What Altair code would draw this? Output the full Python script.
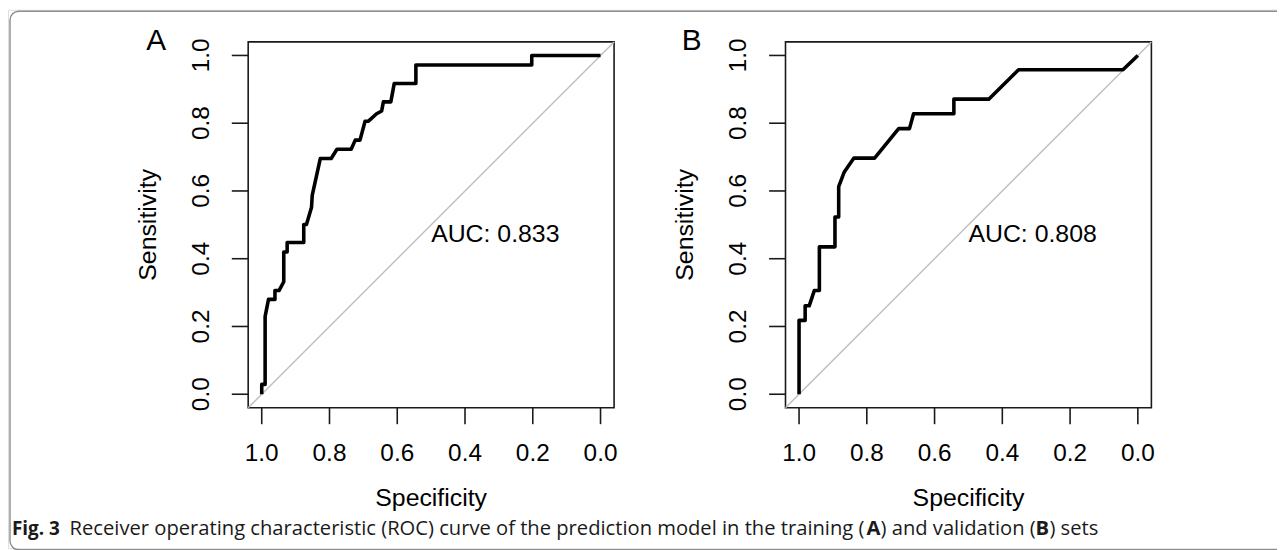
import altair as alt
import pandas as pd

# ---------------- data ----------------
# Panel A (training set) ROC curve: specificity / sensitivity
spec_a = [1.0, 1.0, 0.990, 0.990, 0.980, 0.961, 0.961, 0.949, 0.935, 0.935,
          0.925, 0.925, 0.876, 0.876, 0.868, 0.853, 0.851, 0.827, 0.795, 0.778,
          0.736, 0.724, 0.710, 0.695, 0.685, 0.661, 0.646, 0.641, 0.619, 0.609,
          0.545, 0.545, 0.203, 0.203, 0.0]
sens_a = [0.0, 0.029, 0.029, 0.230, 0.280, 0.280, 0.306, 0.306, 0.332, 0.420,
          0.420, 0.448, 0.448, 0.501, 0.501, 0.552, 0.587, 0.696, 0.696, 0.723,
          0.723, 0.750, 0.750, 0.806, 0.806, 0.828, 0.836, 0.863, 0.863, 0.917,
          0.917, 0.972, 0.972, 1.0, 1.0]
auc_a = "AUC: 0.833"

# Panel B (validation set) ROC curve
spec_b = [1.0, 1.0, 0.982, 0.982, 0.970, 0.955, 0.940, 0.940, 0.894, 0.894,
          0.883, 0.883, 0.867, 0.838, 0.777, 0.706, 0.674, 0.662, 0.543, 0.543,
          0.440, 0.352, 0.044, 0.0]
sens_b = [0.0, 0.218, 0.218, 0.261, 0.261, 0.306, 0.306, 0.435, 0.435, 0.523,
          0.523, 0.613, 0.655, 0.697, 0.697, 0.784, 0.784, 0.828, 0.828, 0.871,
          0.871, 0.958, 0.958, 1.0]
auc_b = "AUC: 0.808"

tick_values = [0.0, 0.2, 0.4, 0.6, 0.8, 1.0]
axis_domain = [-0.04, 1.04]
chance_spec = [1.04, -0.04]
chance_sens = [-0.04, 1.04]
x_title = "Specificity"
y_title = "Sensitivity"

caption_bold = "Fig. 3"
caption_pieces = [
    ("Receiver operating characteristic (ROC) curve of the prediction model in the training (", "normal"),
    ("A", "bold"),
    (") and validation (", "normal"),
    ("B", "bold"),
    (") sets", "normal"),
]

# ---------------- layout (pixels, chart coordinates) ----------------
W, H = 1277, 542
FONT = "Liberation Sans"
CAP_FONT = "Open Sans"
INK = "#1a1a1a"
TICK = 16.5
LABEL_SIZE = 24.5
TITLE_SIZE = 25


def panel(spec, sens, auc_text, xrange, yrange):
    left, right = xrange
    bottom, top = yrange
    xs = alt.Scale(domain=axis_domain, range=[right, left], nice=False, zero=False)
    ys = alt.Scale(domain=axis_domain, range=[bottom, top], nice=False, zero=False)

    def X(f):
        return alt.X(f, type="quantitative", scale=xs, axis=None)

    def Y(f):
        return alt.Y(f, type="quantitative", scale=ys, axis=None)

    df = pd.DataFrame({"i": list(range(len(spec))), "spec": spec, "sens": sens})
    diag = pd.DataFrame({"i": [0, 1], "spec": chance_spec, "sens": chance_sens})
    box = pd.DataFrame({"spec": [axis_domain[0]], "spec2": [axis_domain[1]],
                        "sens": [axis_domain[0]], "sens2": [axis_domain[1]]})
    auc = pd.DataFrame({"spec": [0.5], "sens": [0.5], "label": [auc_text]})
    ticks = pd.DataFrame({"v": tick_values,
                          "edge_lo": [axis_domain[0]] * len(tick_values),
                          "edge_hi": [axis_domain[1]] * len(tick_values)})

    box_layer = alt.Chart(box).mark_rect(fillOpacity=0, stroke=INK, strokeWidth=1.6).encode(
        x=X("spec"), x2="spec2", y=Y("sens"), y2="sens2")
    diag_layer = alt.Chart(diag).mark_line(color="#bebebe", strokeWidth=1.4).encode(
        x=X("spec"), y=Y("sens"), order="i:Q")
    curve_layer = alt.Chart(df).mark_line(
        color="black", strokeWidth=3.6, strokeJoin="round", strokeCap="butt"
    ).encode(x=X("spec"), y=Y("sens"), order="i:Q")
    auc_layer = alt.Chart(auc).mark_text(
        font=FONT, fontSize=TITLE_SIZE, color="black", align="left", baseline="top", dy=-3
    ).encode(x=X("spec"), y=Y("sens"), text="label:N")

    # x axis (bottom): ticks, labels, title
    xt = alt.Chart(ticks).mark_rule(color=INK, strokeWidth=1.6).encode(
        x=X("v"), y=Y("edge_lo"), y2=alt.value(bottom + TICK))
    xl = alt.Chart(ticks).mark_text(
        font=FONT, fontSize=LABEL_SIZE, color="black", align="center", baseline="top",
        dy=TICK + 18.4
    ).encode(x=X("v"), y=Y("edge_lo"), text=alt.Text("v:Q", format=".1f"))
    xtitle = alt.Chart(pd.DataFrame({"t": [x_title]})).mark_text(
        font=FONT, fontSize=TITLE_SIZE, color="black", align="center", baseline="top"
    ).encode(x=alt.value((left + right) / 2), y=alt.value(bottom + 78.4), text="t:N")

    # y axis (left): ticks, labels, title
    yt = alt.Chart(ticks).mark_rule(color=INK, strokeWidth=1.6).encode(
        y=Y("v"), x=X("edge_hi"), x2=alt.value(left - TICK))
    yl = alt.Chart(ticks).mark_text(
        font=FONT, fontSize=LABEL_SIZE, color="black", align="center", baseline="alphabetic",
        angle=270
    ).encode(y=Y("v"), x=alt.value(left - TICK - 23), text=alt.Text("v:Q", format=".1f"))
    ytitle = alt.Chart(pd.DataFrame({"t": [y_title]})).mark_text(
        font=FONT, fontSize=TITLE_SIZE, color="black", align="center", baseline="alphabetic",
        angle=270
    ).encode(x=alt.value(left - 92.7), y=alt.value((bottom + top) / 2), text="t:N")

    return alt.layer(box_layer, diag_layer, xt, yt, curve_layer, auc_layer,
                     xl, yl, xtitle, ytitle)


panel_a = panel(spec_a, sens_a, auc_a, xrange=(241.7, 609.9), yrange=(400.6, 32.4))
panel_b = panel(spec_b, sens_b, auc_b, xrange=(782.4, 1150.6), yrange=(400.6, 32.4))

one = pd.DataFrame({"k": [0]})

frame = alt.Chart(one).mark_rect(
    fillOpacity=0, stroke="#8c8c8c", strokeWidth=1.4, cornerRadius=9
).encode(x=alt.value(2), x2=alt.value(1320), y=alt.value(1.5), y2=alt.value(543.5))

letter_layers = [
    alt.Chart(pd.DataFrame({"t": [t]})).mark_text(
        font=FONT, fontSize=30, color="black", align="center", baseline="alphabetic"
    ).encode(x=alt.value(px), y=alt.value(41), text="t:N")
    for t, px in [("A", 149), ("B", 688)]
]

cap_y = 529
cap_layers = [
    alt.Chart(one).mark_text(
        font=CAP_FONT, fontSize=19, fontWeight="bold", color=INK, align="left",
        baseline="alphabetic", text=caption_bold
    ).encode(x=alt.value(4), y=alt.value(cap_y))
]
piece_x = [62, 864, 878, 1034, 1048]
for (txt, wt), px in zip(caption_pieces, piece_x):
    cap_layers.append(
        alt.Chart(one).mark_text(
            font=CAP_FONT, fontSize=20.3, fontWeight=wt, color=INK, align="left",
            baseline="alphabetic", text=txt
        ).encode(x=alt.value(px), y=alt.value(cap_y))
    )

chart = alt.layer(frame, panel_a, panel_b, *letter_layers, *cap_layers).resolve_scale(
    x="independent", y="independent"
).properties(
    width=W, height=H, padding=0, autosize=alt.AutoSizeParams(type="none")
).configure_view(strokeWidth=0).configure(background="white")

chart.save("out.html", embed_options={"renderer": "svg", "actions": False})
